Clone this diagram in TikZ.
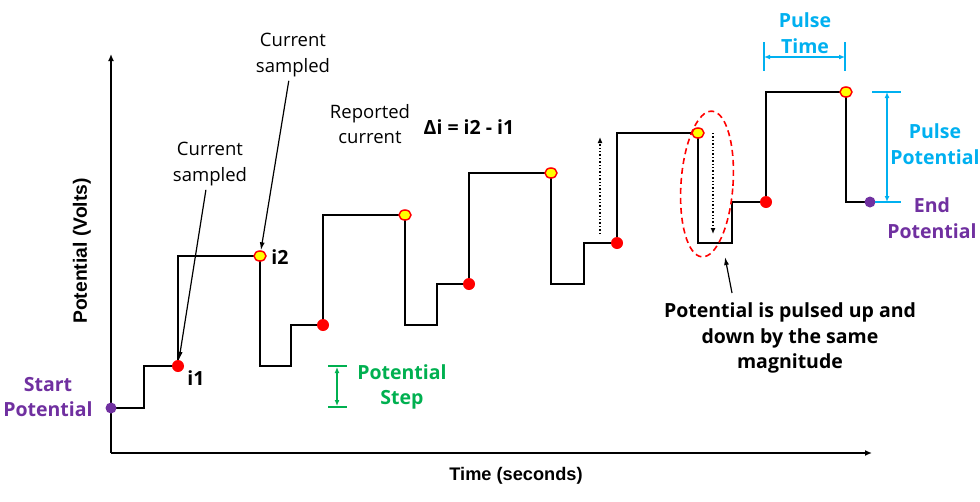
\documentclass[tikz,border=0pt]{standalone}
\usepackage{fontspec}
\setmainfont{Open Sans}
\newfontfamily\arialfont{Liberation Sans}
\usetikzlibrary{arrows.meta,shapes.geometric}
\definecolor{ppl}{HTML}{7030A0}
\definecolor{grn}{HTML}{00B050}
\definecolor{lblue}{HTML}{00B0F0}
\definecolor{dotred}{HTML}{FF0000}
\definecolor{dotyel}{HTML}{FFFF00}
\begin{document}
\begin{tikzpicture}[x=1pt,y=-1pt,
  wave/.style={line width=1.7pt,line join=miter},
  axis/.style={line width=1.9pt,-{Latex[length=7pt,width=6pt]}},
  reddot/.style={circle,fill=dotred,inner sep=0pt,minimum size=12pt},
  yeldot/.style={ellipse,fill=dotyel,draw=dotred,line width=1.5pt,inner sep=0pt,minimum width=12pt,minimum height=10pt},
  purpdot/.style={circle,fill=ppl,inner sep=0pt,minimum size=11pt},
  lbl/.style={align=center,font=\fontsize{18.5}{25.5}\selectfont,inner sep=1pt},
  blbl/.style={align=center,font=\fontsize{19.5}{25.5}\selectfont\bfseries,inner sep=1pt},
  ptr/.style={line width=1.2pt,-{Latex[length=8pt,width=5pt]}},
  dotarrow/.style={line width=1.4pt,dotted,-{Latex[length=6pt,width=5pt]}},
  dim/.style={line width=1.3pt,{Latex[length=6pt,width=5pt]}-{Latex[length=6pt,width=5pt]}},
  tick/.style={line width=1.3pt}
]
\useasboundingbox (0,0) rectangle (980,501);

% axes
\coordinate (O) at (111,453);
\coordinate (ytop) at (111,54);
\coordinate (xend) at (872,453);
\draw[axis] (O) -- (ytop);
\draw[axis] (O) -- (xend);
\node[font=\arialfont\bfseries\fontsize{19.3}{22}\selectfont,rotate=90] (ylab) at (82,251) {Potential (Volts)};
\node[font=\arialfont\bfseries\fontsize{18.2}{22}\selectfont] (xlab) at (516,476) {Time (seconds)};

% waveform
\draw[wave] (111,408) -- (144,408) -- (144,366) -- (178,366) -- (178,256) -- (260,256)
  -- (260,366) -- (291,366) -- (291,325) -- (323,325) -- (323,215) -- (405,215)
  -- (405,325) -- (437,325) -- (437,284) -- (469,284) -- (469,173) -- (551,173)
  -- (551,284) -- (584,284) -- (584,243) -- (617,243) -- (617,133) -- (698,133)
  -- (698,243) -- (732,243) -- (732,202) -- (766,202) -- (766,92) -- (846,92)
  -- (846,202) -- (870,202);

% dots
\node[purpdot] (s0) at (111,408) {};
\node[reddot] (r1) at (178,366) {};
\node[yeldot] (y1) at (260,256) {};
\node[reddot] (r2) at (323,325) {};
\node[yeldot] (y2) at (405,215) {};
\node[reddot] (r3) at (469,284) {};
\node[yeldot] (y3) at (551,173) {};
\node[reddot] (r4) at (617,243) {};
\node[yeldot] (y4) at (698,133) {};
\node[reddot] (r5) at (766,202) {};
\node[yeldot] (y5) at (846,92) {};

% labels i1 i2
\node[blbl] (i1) at (196,378) {i1};
\node[blbl] (i2) at (280,257) {i2};

% current sampled labels
\node[lbl] (cs1) at (210,164) {Current\\sampled};
\node[lbl] (cs2) at (293,55) {Current\\sampled};
\draw[ptr,shorten <=3pt] (cs1) -- (r1);
\draw[ptr,shorten <=3pt] (cs2) -- (y1);

\node[lbl] (rep) at (370,124) {Reported\\current};
\node[blbl] (delta) at (469,127) {Δi = i2 - i1};

% start / end potential
\node[blbl,text=ppl] (startp) at (48,397) {Start\\Potential};
\node[purpdot] (e0) at (870,202) {};
\node[blbl,text=ppl] (endp) at (932,218) {End\\Potential};

% potential step
\coordinate (ps1) at (328,366); \coordinate (ps2) at (347,366);
\coordinate (ps3) at (328,407); \coordinate (ps4) at (347,407);
\coordinate (psa) at (337,367); \coordinate (psb) at (337,406);
\draw[grn,tick] (ps1) -- (ps2);
\draw[grn,tick] (ps3) -- (ps4);
\draw[grn,dim] (psa) -- (psb);
\node[blbl,text=grn] (pstep) at (402,387) {Potential\\Step};

% pulse time
\coordinate (pt1) at (764,42); \coordinate (pt2) at (764,71);
\coordinate (pt3) at (845,42); \coordinate (pt4) at (845,71);
\coordinate (pta) at (764,57); \coordinate (ptb) at (845,57);
\draw[lblue,tick] (pt1) -- (pt2);
\draw[lblue,tick] (pt3) -- (pt4);
\draw[lblue,dim] (pta) -- (ptb);
\node[blbl,text=lblue] (ptime) at (805,33) {Pulse\\Time};

% pulse potential
\coordinate (pp1) at (872,92); \coordinate (pp2) at (901,92);
\coordinate (pp3) at (875,202); \coordinate (pp4) at (901,202);
\coordinate (ppa) at (887,92); \coordinate (ppb) at (887,202);
\draw[lblue,tick] (pp1) -- (pp2);
\draw[lblue,tick] (pp3) -- (pp4);
\draw[lblue,dim] (ppa) -- (ppb);
\node[blbl,text=lblue] (ppot) at (935,144) {Pulse\\Potential};

% dotted arrows
\coordinate (du1) at (600,234); \coordinate (du2) at (600,137);
\coordinate (dd1) at (713,133); \coordinate (dd2) at (713,234);
\draw[dotarrow] (du1) -- (du2);
\draw[dotarrow] (dd1) -- (dd2);

% ellipse
\node[ellipse,draw=dotred,dashed,dash pattern=on 6pt off 4pt,line width=1.6pt,
  minimum width=52pt,minimum height=146pt,rotate=-4,inner sep=0pt] (ell) at (707,184) {};

% pulsed text
\node[blbl] (pulsed) at (790,338) {Potential is pulsed up and\\down by the same\\magnitude};
\coordinate (pa) at (732,293);
\coordinate (pb) at (725,257);
\draw[ptr] (pa) -- (pb);
\end{tikzpicture}
\end{document}
